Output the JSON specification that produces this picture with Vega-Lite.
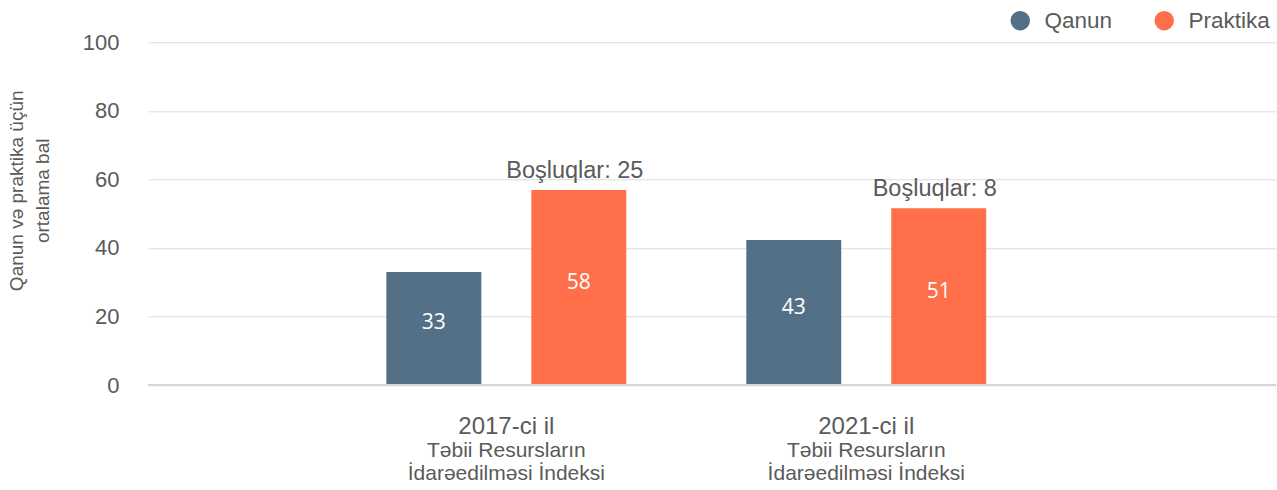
{
  "$schema": "https://vega.github.io/schema/vega-lite/v6.json",
  "width": 1128,
  "height": 342.7,
  "autosize": {"type": "none"},
  "padding": {"left": 148, "top": 42.3, "right": 1, "bottom": 105},
  "config": {
    "view": {"stroke": null},
    "font": "Liberation Sans",
    "axis": {"labelColor": "#5a5a5a", "titleColor": "#5a5a5a", "ticks": false, "domain": false}
  },
  "data": {
    "values": [
      {"year": "2017-ci il", "type": "Qanun", "value": 33.0, "label": "33", "gap": ""},
      {"year": "2017-ci il", "type": "Praktika", "value": 56.9, "label": "58", "gap": "Boşluqlar: 25"},
      {"year": "2021-ci il", "type": "Qanun", "value": 42.3, "label": "43", "gap": ""},
      {"year": "2021-ci il", "type": "Praktika", "value": 51.6, "label": "51", "gap": "Boşluqlar: 8"}
    ]
  },
  "resolve": {"axis": {"x": "independent"}},
  "layer": [
    {
      "mark": {"type": "bar"},
      "encoding": {
        "x": {
          "field": "year", "type": "nominal", "sort": ["2017-ci il", "2021-ci il"],
          "scale": {"paddingInner": 0, "paddingOuter": 0.567, "align": 0.437},
          "axis": {"orient": "bottom", "title": null, "grid": false, "labelAngle": 0, "labelFontSize": 24, "labelPadding": 29, "labelBaseline": "top", "labelLimit": 0}
        },
        "xOffset": {
          "field": "type", "type": "nominal", "sort": ["Qanun", "Praktika"],
          "scale": {"paddingInner": 0.345, "paddingOuter": 0.414}
        },
        "y": {
          "field": "value", "type": "quantitative",
          "scale": {"domain": [0, 100]},
          "axis": {
            "orient": "left",
            "values": [0, 20, 40, 60, 80, 100],
            "grid": true,
            "title": ["Qanun və praktika üçün", "ortalama bal"],
            "titleFontSize": 19, "titleFontWeight": "normal",
            "titleX": -132, "titleY": 148, "titleAngle": -90,
            "titleAlign": "center", "titleBaseline": "middle", "titleLineHeight": 26,
            "labelFontSize": 22, "labelPadding": 29,
            "gridColor": "#dcdcdc", "gridWidth": 1
          }
        },
        "color": {
          "field": "type", "type": "nominal",
          "scale": {"domain": ["Qanun", "Praktika"], "range": ["#547087", "#ff6f4a"]},
          "legend": {
            "title": null, "orient": "none", "legendX": 861, "legendY": -33,
            "direction": "horizontal", "symbolType": "circle", "symbolSize": 380,
            "symbolStrokeWidth": 0, "symbolOpacity": 1,
            "labelFontSize": 22.5, "labelColor": "#5a5a5a", "labelOffset": 13,
            "columnPadding": 40, "padding": 0
          }
        }
      }
    },
    {
      "mark": {"type": "rule", "color": "#d6d6d6", "strokeWidth": 2},
      "encoding": {
        "y": {"datum": 0, "type": "quantitative"}
      }
    },
    {
      "transform": [{"calculate": "datum.value / 2", "as": "mid"}],
      "mark": {"type": "text", "font": "Open Sans", "fontSize": 21, "color": "#ffffff", "baseline": "middle", "align": "center", "dy": -5},
      "encoding": {
        "x": {
          "field": "year", "type": "nominal", "sort": ["2017-ci il", "2021-ci il"],
          "axis": {"orient": "bottom", "title": null, "grid": false, "labelAngle": 0,
            "labelExpr": "['Təbii Resursların', 'İdarəedilməsi İndeksi']",
            "labelFontSize": 21, "labelLineHeight": 23.5, "labelPadding": 54.4, "labelBaseline": "top", "labelLimit": 0}
        },
        "xOffset": {"field": "type", "type": "nominal", "sort": ["Qanun", "Praktika"]},
        "y": {"field": "mid", "type": "quantitative"},
        "text": {"field": "label"}
      }
    },
    {
      "transform": [{"filter": "datum.gap !== ''"}],
      "mark": {"type": "text", "fontSize": 23.5, "color": "#5a5a5a", "baseline": "alphabetic", "align": "center", "dy": -12, "dx": -4},
      "encoding": {
        "x": {"field": "year", "type": "nominal", "sort": ["2017-ci il", "2021-ci il"], "axis": null},
        "xOffset": {"field": "type", "type": "nominal", "sort": ["Qanun", "Praktika"]},
        "y": {"field": "value", "type": "quantitative"},
        "text": {"field": "gap"}
      }
    }
  ]
}
